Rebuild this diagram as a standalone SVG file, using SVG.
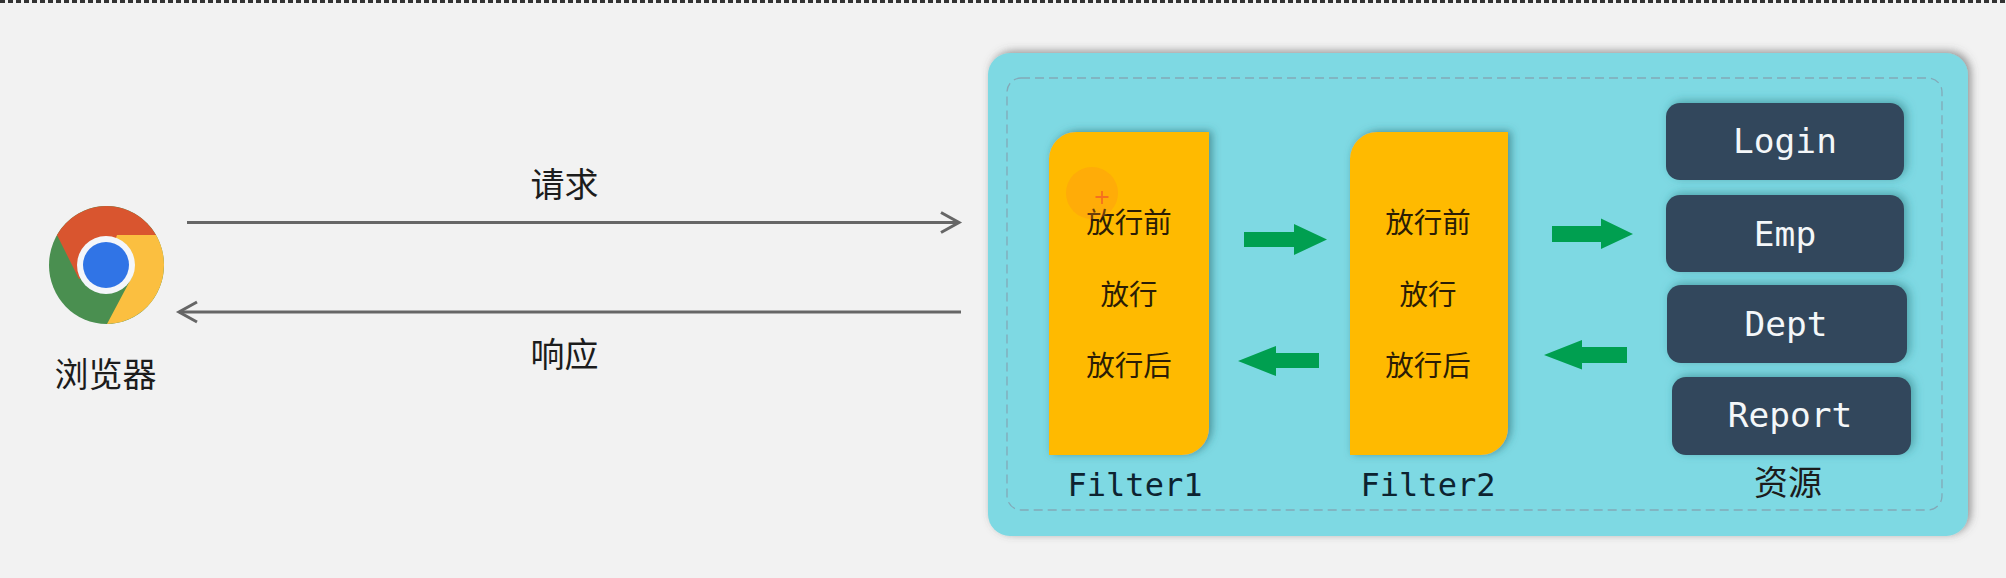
<svg xmlns="http://www.w3.org/2000/svg" width="2006" height="578" viewBox="0 0 2006 578">
<style>
.cjk{font-family:"Noto Sans CJK SC","Noto Sans",sans-serif;fill:#1c1c1c;text-anchor:middle}
.l{font-size:34px}
.f{font-size:28.500px;fill:#2b1d05}
.mono{font-family:"DejaVu Sans Mono","Liberation Mono","Noto Sans CJK SC",monospace;text-anchor:middle}
.fn{font-size:32px;fill:#0d2330}
.res{font-size:34.500px;fill:#f4f7f9}
.block{fill:#ffba00;filter:url(#sb)}
.box{fill:#33475b;filter:url(#sr)}
.wire{fill:none;stroke:#666;stroke-width:3}
.flow{fill:#009f50}
</style>
<defs>
<filter id="sm" x="-5%" y="-10%" width="110%" height="120%"><feDropShadow dx="3" dy="-2" stdDeviation="4" flood-color="#555" flood-opacity=".6"/></filter>
<filter id="sb" x="-15%" y="-10%" width="130%" height="120%"><feDropShadow dx="3" dy="-1" stdDeviation="4" flood-color="#2a6a70" flood-opacity=".65"/></filter>
<filter id="sr" x="-10%" y="-25%" width="120%" height="150%"><feDropShadow dx="3" dy="-2" stdDeviation="5" flood-color="#2a7a80" flood-opacity=".6"/></filter>
<marker id="open" markerUnits="userSpaceOnUse" markerWidth="24" markerHeight="28" refX="20" refY="12" orient="auto-start-reverse" viewBox="0 0 24 24"><path d="M2 2 L20 12 L2 22" fill="none" stroke="#666" stroke-width="3"/></marker>
</defs>
<rect width="2006" height="578" fill="#f2f2f2"/>
<line x1="0" y1="1.500" x2="2006" y2="1.500" stroke="#333" stroke-width="3" stroke-dasharray="5 3"/>

<g id="browser">
<ellipse cx="106.500" cy="265" rx="57.500" ry="59" fill="#4a8f50"/>
<path d="M156 235 A57.500 59 0 0 1 107 324 L133 275 L106.500 235 Z" fill="#fbbf40"/>
<path d="M156 235 A57.500 59 0 0 0 57 235 L79 279 L106.500 265 L117 235 Z" fill="#d9552f"/>
<circle cx="106" cy="265" r="29" fill="#f4f6fa"/>
<circle cx="106" cy="265" r="23" fill="#3074e6"/>
<text class="cjk l" x="105.500" y="387">浏览器</text>
</g>

<g id="server"><rect x="988" y="53" width="980" height="483" rx="22" fill="#7ed9e3" filter="url(#sm)"/>
<rect x="1007" y="78" width="935" height="432" rx="14" fill="none" stroke="#83a9b8" stroke-width="1.300" stroke-dasharray="9 5"/></g>

<g id="filter1">
<path class="block" d="M1049 159 A27 27 0 0 1 1076 132 H1209 V428 A27 27 0 0 1 1182 455 H1049 Z"/>
<text class="cjk f" x="1129" y="233">放行前</text>
<text class="cjk f" x="1129" y="304.500">放行</text>
<text class="cjk f" x="1129" y="376">放行后</text>
<text class="mono fn" x="1135" y="495.500">Filter1</text>
</g>
<g id="filter2">
<path class="block" d="M1350 159 A27 27 0 0 1 1377 132 H1508 V428 A27 27 0 0 1 1481 455 H1350 Z"/>
<text class="cjk f" x="1428" y="233">放行前</text>
<text class="cjk f" x="1428" y="304.500">放行</text>
<text class="cjk f" x="1428" y="376">放行后</text>
<text class="mono fn" x="1428" y="496">Filter2</text>
</g>

<g id="login"><rect class="box" x="1666" y="103" width="238" height="77" rx="14"/><text class="mono res" x="1785" y="153">Login</text></g>
<g id="emp"><rect class="box" x="1666" y="195" width="238" height="77" rx="14"/><text class="mono res" x="1785" y="246">Emp</text></g>
<g id="dept"><rect class="box" x="1667" y="285" width="240" height="78" rx="14"/><text class="mono res" x="1786" y="336">Dept</text></g>
<g id="report"><rect class="box" x="1672" y="377" width="239" height="78" rx="14"/><text class="mono res" x="1790" y="427">Report</text></g>
<text id="resources-label" class="cjk l" x="1788" y="495">资源</text>

<g id="connectors">
<line class="wire" x1="187" y1="222.500" x2="959" y2="222.500" marker-end="url(#open)"/>
<line class="wire" x1="961" y1="312" x2="179" y2="312" marker-end="url(#open)"/>
<polygon class="flow" points="1244,232 1294,232 1294,224 1327,239.500 1294,255 1294,247 1244,247"/>
<polygon class="flow" points="1319,353 1276,353 1276,346 1238,361 1276,376 1276,368 1319,368"/>
<polygon class="flow" points="1552,226 1601,226 1601,218.500 1633,234 1601,249 1601,242 1552,242"/>
<polygon class="flow" points="1627,347 1582,347 1582,340 1544,355 1582,369.500 1582,363 1627,363"/>
</g>
<text id="request-label" class="cjk l" x="564.500" y="197">请求</text>
<text id="response-label" class="cjk l" x="564.500" y="367">响应</text>

<g id="cursor">
<circle cx="1092" cy="193" r="26" fill="#ff8a1a" opacity=".3"/>
<path d="M1102 191 V204 M1095.500 197 H1108.500" stroke="#f5701f" stroke-width="1.800" fill="none"/>
</g>
</svg>
